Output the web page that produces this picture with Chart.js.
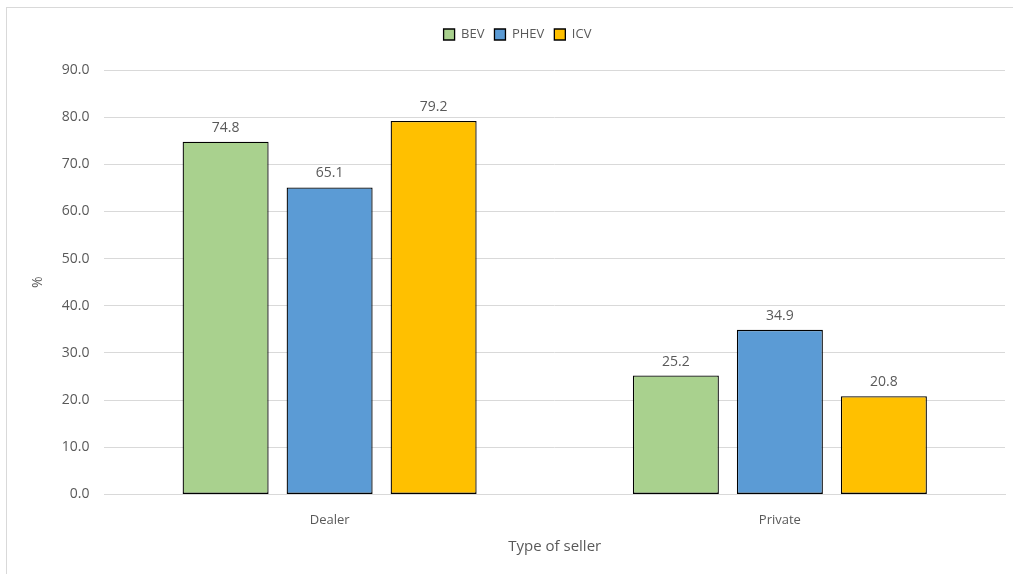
<!DOCTYPE html>
<html><head><meta charset="utf-8">
<script src="https://cdn.jsdelivr.net/npm/chart.js@4.4.1/dist/chart.umd.min.js"></script>
<style>
html,body{margin:0;padding:0;background:#fff;}
#wrap{position:relative;width:1013px;height:574px;overflow:hidden;}
#frame{position:absolute;left:6px;top:7px;width:1100px;height:700px;border-left:1px solid #d9d9d9;border-top:1px solid #d9d9d9;box-sizing:border-box;}
canvas{position:absolute;left:0;top:0;}
</style></head>
<body><div id="wrap"><div id="frame"></div><canvas id="c" width="1013" height="574"></canvas></div>
<script>
const categories = ["Dealer", "Private"];
const bev = [74.8, 25.2];
const phev = [65.1, 34.9];
const icv = [79.2, 20.8];
const seriesNames = ["BEV", "PHEV", "ICV"];
const colors = ["#a9d18e", "#5b9bd5", "#ffc000"];
const FONT = "'Open Sans', 'Liberation Sans', sans-serif";
const TXT = "#595959";

const labelPlugin = {
  id: 'lbl',
  beforeInit(chart) {
    const orig = chart.legend.fit;
    chart.legend.fit = function () { orig.call(this); this.height += 19; };
  },
  afterDatasetsDraw(chart) {
    const ctx = chart.ctx;
    ctx.save();
    ctx.font = "14px " + FONT;
    ctx.fillStyle = TXT;
    ctx.textAlign = 'center';
    ctx.textBaseline = 'bottom';
    chart.data.datasets.forEach((ds, i) => {
      chart.getDatasetMeta(i).data.forEach((el, j) => {
        ctx.fillText(ds.data[j].toFixed(1), el.x, el.y - 7);
      });
    });
    ctx.restore();
  }
};

new Chart(document.getElementById('c'), {
  type: 'bar',
  data: {
    labels: categories,
    datasets: [bev, phev, icv].map((d, i) => ({
      label: seriesNames[i], data: d, backgroundColor: colors[i],
      borderColor: '#000', borderWidth: 1.3, borderSkipped: false,
      categoryPercentage: 0.693, barPercentage: 0.827
    }))
  },
  options: {
    responsive: false, animation: false, devicePixelRatio: 1,
    layout: { padding: { left: 30, right: 8, top: 18, bottom: 18 } },
    plugins: {
      legend: {
        position: 'top',
        labels: { font: { family: FONT, size: 13 }, color: TXT, boxWidth: 11, boxHeight: 11, padding: 10, useBorderRadius: false },
      },
      tooltip: { enabled: false }
    },
    scales: {
      x: {
        grid: { display: false },
        border: { color: '#d9d9d9' },
        ticks: { font: { family: FONT, size: 13 }, color: TXT, padding: 10 },
        title: { display: true, text: 'Type of seller', font: { family: FONT, size: 15 }, color: TXT, padding: { top: 0, bottom: 0 } }
      },
      y: {
        min: 0, max: 90,
        ticks: { stepSize: 10, font: { family: FONT, size: 14 }, color: TXT, padding: 15, callback: v => v.toFixed(1) },
        grid: { color: '#d9d9d9', drawTicks: false },
        border: { display: false },
        title: { display: true, text: '%', font: { family: FONT, size: 14 }, color: TXT, padding: { top: 0, bottom: 0 } }
      }
    }
  },
  plugins: [labelPlugin]
});
</script></body></html>
